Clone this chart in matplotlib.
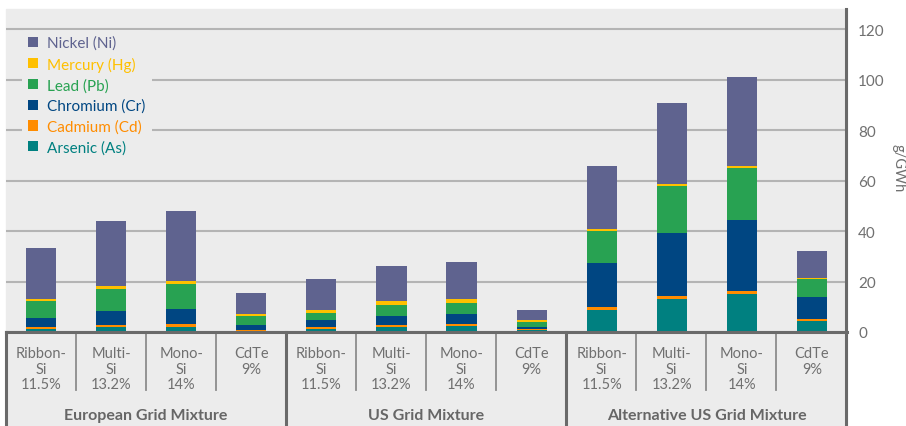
import matplotlib as mpl
mpl.use('agg')
import matplotlib.pyplot as plt
from matplotlib.patches import Patch, Rectangle
from matplotlib.lines import Line2D
import numpy as np

plt.rcParams['font.family'] = ['Lato', 'DejaVu Sans']

# data (g/GWh)
categories = ["Ribbon-\nSi\n11.5%", "Multi-\nSi\n13.2%", "Mono-\nSi\n14%", "CdTe\n9%"] * 3
groups = ["European Grid Mixture", "US Grid Mixture", "Alternative US Grid Mixture"]

arsenic  = [1.2, 2.0, 2.0, 0.4,   1.2, 2.0, 2.4, 0.8,   8.7, 13.1, 15.0, 4.4]
cadmium  = [0.8, 0.8, 1.2, 0.4,   0.8, 0.8, 0.8, 0.4,   1.2, 1.2, 1.2, 0.7]
chromium = [3.5, 5.5, 5.9, 2.0,   2.8, 3.5, 3.9, 0.8,   17.4, 24.9, 28.2, 8.8]
lead     = [6.8, 8.7, 9.8, 3.5,   2.7, 4.4, 4.4, 2.0,   12.7, 18.6, 20.6, 7.1]
mercury  = [0.8, 1.2, 1.3, 0.8,   1.2, 1.6, 1.6, 0.8,   0.8, 0.8, 0.7, 0.4]
nickel   = [20.2, 25.8, 27.7, 8.3, 12.3, 13.8, 14.6, 3.9, 24.9, 32.1, 35.3, 10.7]

series = [
    ("Arsenic (As)", arsenic, "#008080"),
    ("Cadmium (Cd)", cadmium, "#ff8c00"),
    ("Chromium (Cr)", chromium, "#004682"),
    ("Lead (Pb)", lead, "#28a252"),
    ("Mercury (Hg)", mercury, "#ffc000"),
    ("Nickel (Ni)", nickel, "#5f638f"),
]

W, H = 906, 427
bg = "#ececec"
txt = "#707070"
fig = plt.figure(figsize=(W / 100, H / 100), dpi=100)
fig.patch.set_facecolor("white")

x0, x1, ybase, ytop = 6, 847, 333, 10
ax = fig.add_axes([x0 / W, (H - ybase) / H, (x1 - x0) / W, (ybase - ytop) / H])
ax.set_facecolor("none")
fig.patches.append(Rectangle((x0 / W, 0), (x1 - x0) / W, (H - ytop) / H,
                             transform=fig.transFigure, color=bg, zorder=-5))

x = np.arange(len(categories))
bottom = np.zeros(len(categories))
for name, vals, col in series:
    ax.bar(x, vals, width=0.43, bottom=bottom, color=col, zorder=3)
    bottom += np.array(vals)

ax.set_xlim(-0.5, 11.5)
ax.set_ylim(0, 128)
ax.set_yticks(range(0, 121, 20))
ax.yaxis.tick_right()
ax.tick_params(axis='y', length=0, pad=8, labelsize=11, labelcolor=txt)
ax.grid(axis='y', color="#b4b4b4", lw=1.5, zorder=1)
for s in ax.spines.values():
    s.set_visible(False)

ax.set_xticks(x)
ax.set_xticklabels(categories, fontsize=10.5, color=txt, linespacing=1.15)
ax.tick_params(axis='x', length=0, pad=10)

fig.text(898 / W, (H - 168) / H, "g/GWh", rotation=270, fontsize=10.5, color=txt,
         ha='center', va='center')

# table lines below the plot
def fy(ypx):
    return (H - ypx) / H

def fx(xpx):
    return xpx / W

for k in range(13):
    xp = x0 + 70 * k
    if k % 4 == 0:
        fig.add_artist(Line2D([fx(xp), fx(xp)], [fy(ybase), 0] if k < 12 else [fy(ytop), 0],
                              color="#6a6a6a", lw=2.2, zorder=5))
    else:
        fig.add_artist(Line2D([fx(xp), fx(xp)], [fy(ybase), fy(391)],
                              color="#8c8c8c", lw=1.3, zorder=5))
fig.add_artist(Line2D([fx(x0), fx(x1)], [fy(ybase), fy(ybase)], color="#6a6a6a", lw=2.2, zorder=5))

for g, name in enumerate(groups):
    ax.text(g * 4 + 1.5, -(416 - ybase) / (ybase - ytop), name,
            transform=ax.get_xaxis_transform(), ha='center', va='center',
            fontsize=11.5, fontweight='bold', color="#666666")

# legend
order = series[::-1]
handles = [Patch(facecolor=c, edgecolor='none') for _, _, c in order]
leg = ax.legend(handles, [n for n, _, _ in order], loc='upper left',
                bbox_to_anchor=(fx(15) - fx(x0), 1 - 13 / (ybase - ytop)),
                bbox_transform=ax.transAxes, frameon=True, facecolor=bg, edgecolor='none',
                framealpha=1, fontsize=11, handlelength=0.65, handleheight=0.65,
                handletextpad=0.6, labelspacing=0.42, borderpad=0.4,
                labelcolor=[c for _, _, c in order])
leg.set_zorder(4)

fig.savefig("out.png", dpi=100)
